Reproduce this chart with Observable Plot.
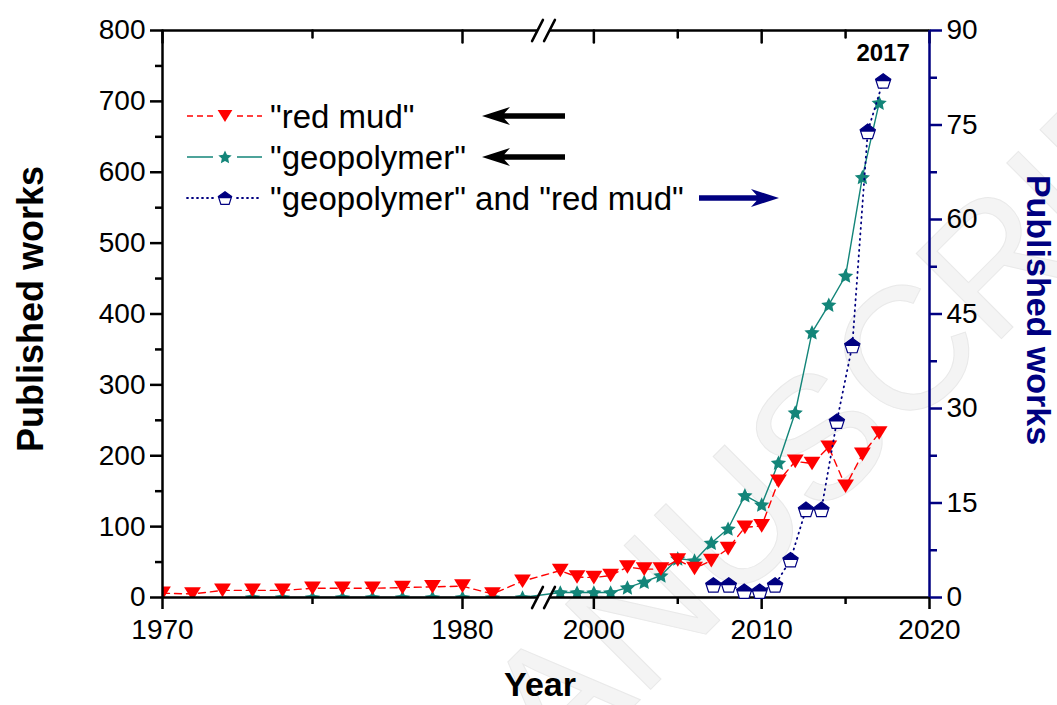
<!DOCTYPE html>
<html>
<head>
<meta charset="utf-8">
<script src="https://cdn.jsdelivr.net/npm/d3@7"></script>
<script src="https://cdn.jsdelivr.net/npm/@observablehq/plot@0.6"></script>
<style>
  html, body { margin: 0; padding: 0; background: #fff; }
  #chart { position: relative; width: 1057px; height: 705px; }
  #chart svg { position: absolute; left: 0; top: 0; }
</style>
</head>
<body>
<div id="chart"></div>
<script>
// ---- Publications per year ----
const redMudYears = [1970, 1971, 1972, 1973, 1974, 1975, 1976, 1977, 1978, 1979, 1980, 1981, 1982,
  1998, 1999, 2000, 2001, 2002, 2003, 2004, 2005, 2006, 2007, 2008, 2009, 2010, 2011, 2012, 2013, 2014, 2015, 2016, 2017];
const redMudCounts = [6, 5, 10, 10, 10, 13, 13, 13, 14, 15, 16, 5, 23,
  38, 29, 28, 31, 43, 40, 40, 53, 41, 52, 69, 99, 101, 164, 192, 189, 212, 157, 202, 232];

const geoYears = [1973, 1974, 1975, 1976, 1977, 1978, 1979, 1980, 1981, 1982,
  1998, 1999, 2000, 2001, 2002, 2003, 2004, 2005, 2006, 2007, 2008, 2009, 2010, 2011, 2012, 2013, 2014, 2015, 2016, 2017];
const geoCounts = [0, 0, 0, 0, 0, 0, 0, 0, 0, 0,
  7, 7, 7, 7, 14, 22, 31, 55, 52, 77, 97, 144, 131, 190, 261, 374, 413, 454, 593, 698];

const bothYears = [2006, 2007, 2008, 2009, 2010, 2011, 2012, 2013, 2014, 2015, 2016, 2017];
const bothCounts = [2, 2, 1, 1, 2, 6, 14, 14, 28, 40, 74, 82];

const seriesLabels = ['"red mud"', '"geopolymer"', '"geopolymer" and "red mud"'];
const seriesColors = ["#ff0000", "#138579", "#000080"];

// ---- Axes ----
const leftTicks = [0, 100, 200, 300, 400, 500, 600, 700, 800];
const leftMinor = [50, 150, 250, 350, 450, 550, 650, 750];
const rightTicks = [0, 15, 30, 45, 60, 75, 90];
const rightMinor = [7.5, 22.5, 37.5, 52.5, 67.5, 82.5];
const yearTicks = [1970, 1980, 2000, 2010, 2020];
const yearMinor = [1975, 2005, 2015];
const breakFrom = 1982.7;   // last year shown before the axis break
const breakTo = 1997;       // first year shown after the axis break
const overlayYears = [1995, 2020]; // x extent of the second (right-axis) layer

const xTitle = "Year";
const yTitle = "Published works";
const watermarkText = "MANUSCRIPT";

// ---- Layout ----
const W = 1057, H = 705;
const M = {left: 162, right: 128, top: 30, bottom: 108};
const breakPx = 543;
const font = "'Liberation Sans', Arial, Helvetica, sans-serif";

// ---- Symbols ----
const triDown = {draw(c, size) {
  const r = Math.sqrt(size / Math.PI);
  c.moveTo(-1.05 * r, -0.85 * r); c.lineTo(1.05 * r, -0.85 * r); c.lineTo(0, 0.85 * r); c.closePath();
}};
const star5 = {draw(c, size) {
  const R = Math.sqrt(size / Math.PI), r = R * 0.48;
  for (let i = 0; i < 10; i++) {
    const a = -Math.PI / 2 + i * Math.PI / 5, rr = i % 2 ? r : R;
    const x = rr * Math.cos(a), y = rr * Math.sin(a) + 0.08 * R;
    i ? c.lineTo(x, y) : c.moveTo(x, y);
  }
  c.closePath();
}};
const pentagon = {draw(c, size) {
  const R = Math.sqrt(size / Math.PI);
  for (let i = 0; i < 5; i++) {
    const a = -Math.PI / 2 + i * 2 * Math.PI / 5;
    const x = R * Math.cos(a), y = R * Math.sin(a) + 0.1 * R;
    i ? c.lineTo(x, y) : c.moveTo(x, y);
  }
  c.closePath();
}};
const pentagonTop = {draw(c, size) {
  const R = Math.sqrt(size / Math.PI), o = 0.1 * R;
  c.moveTo(0, -R + o);
  c.lineTo(0.951 * R, -0.309 * R + o);
  c.lineTo(0.851 * R, 0.05 * R);
  c.lineTo(-0.851 * R, 0.05 * R);
  c.lineTo(-0.951 * R, -0.309 * R + o);
  c.closePath();
}};
const tickLine = {draw(c, l) { c.moveTo(0, 0); c.lineTo(0, -l); }};
const symPath = (sym, r) => { const p = d3.path(); sym.draw(p, Math.PI * r * r); return p.toString(); };

// ---- Tables ----
const redMud = redMudYears.map((year, i) => ({year, count: redMudCounts[i]}));
const geopolymer = geoYears.map((year, i) => ({year, count: geoCounts[i]}));
const both = bothYears.map((year, i) => ({year, count: bothCounts[i]}));

const legendItems = [
  {label: seriesLabels[0], color: seriesColors[0], symbol: triDown, dash: "6,4", arrow: -1},
  {label: seriesLabels[1], color: seriesColors[1], symbol: star5, dash: null, arrow: -1},
  {label: seriesLabels[2], color: seriesColors[2], symbol: pentagon, dash: "1,4", arrow: +1}
];

// faint diagonal watermark behind the data
function watermark() {
  return d3.create("svg:text")
    .attr("transform", "translate(455,885) rotate(-45)")
    .attr("text-anchor", "start")
    .attr("font-family", font).attr("font-size", 175)
    .attr("fill", "#f4f4f4").attr("stroke", "#e9e9e9").attr("stroke-width", 1)
    .text(watermarkText).node();
}

// legend with series symbols and the arrows pointing to each axis
function legend() {
  const g = d3.create("svg:g").attr("font-family", font).attr("text-anchor", "start");
  const rowTop = 116, rowStep = 41, lineA = 187, lineB = 262, markX = 225, textX = 270;
  legendItems.forEach((d, i) => {
    const row = g.append("g").attr("transform", `translate(0,${rowTop + i * rowStep})`);
    for (const [a, b] of [[lineA, markX - 12], [markX + 12, lineB]]) {
      row.append("line").attr("x1", a).attr("x2", b).attr("y1", 0).attr("y2", 0)
        .attr("stroke", d.color).attr("stroke-width", d.dash === "1,4" ? 1.8 : 1.5)
        .attr("stroke-dasharray", d.dash).attr("stroke-linecap", d.dash === "1,4" ? "round" : "butt");
    }
    if (d.symbol === pentagon) {
      row.append("path").attr("transform", `translate(${markX},0)`).attr("d", symPath(pentagon, 7))
        .attr("fill", "white").attr("stroke", d.color).attr("stroke-width", 1.2);
      row.append("path").attr("transform", `translate(${markX},0)`).attr("d", symPath(pentagonTop, 7))
        .attr("fill", d.color);
    } else {
      row.append("path").attr("transform", `translate(${markX},0)`).attr("d", symPath(d.symbol, 7))
        .attr("fill", d.color);
    }
    row.append("text").attr("x", textX).attr("y", 0).attr("dy", "0.35em")
      .attr("font-size", 33).attr("fill", "black").text(d.label);
    // arrow
    const [tail, tip] = d.arrow < 0 ? [565, 482] : [699, 779];
    const s = Math.sign(tip - tail), hl = 28, hh = 9, st = 2.8;
    const pts = [[tip, 0], [tip - s * hl, -hh], [tip - s * hl * 0.8, -st], [tail, -st],
                 [tail, st], [tip - s * hl * 0.8, st], [tip - s * hl, hh]];
    row.append("path").attr("d", "M" + pts.map(p => p.join(",")).join("L") + "Z")
      .attr("fill", d.arrow < 0 ? "black" : "#000080");
  });
  return g.node();
}

const axisStyle = {strokeWidth: 2.5, fontSize: 28, label: null};

const main = Plot.plot({
  width: W, height: H,
  marginLeft: M.left, marginRight: M.right, marginTop: M.top, marginBottom: M.bottom,
  style: {fontFamily: font, background: "white", color: "black", overflow: "hidden"},
  x: {type: "linear", domain: [1970, breakFrom, breakTo, 2020], range: [M.left, breakPx, breakPx, W - M.right]},
  y: {domain: [0, 800], range: [H - M.bottom, M.top]},
  marks: [
    watermark,
    // series
    Plot.line(geopolymer, {x: "year", y: "count", stroke: seriesColors[1], strokeWidth: 1.4, clip: true}),
    Plot.dot(geopolymer, {x: "year", y: "count", symbol: star5, r: 8, fill: seriesColors[1], clip: true}),
    Plot.line(redMud, {x: "year", y: "count", stroke: seriesColors[0], strokeWidth: 1.4, strokeDasharray: "7,5", clip: true}),
    Plot.dot(redMud, {x: "year", y: "count", symbol: triDown, r: 8, fill: seriesColors[0], clip: true}),
    // frame lines, broken at the axis gap
    Plot.ruleX([1970], {stroke: "black", strokeWidth: 2.5}),
    Plot.ruleY([0, 800], {x1: 1970, x2: breakFrom, insetRight: 6, stroke: "black", strokeWidth: 2.5}),
    Plot.ruleY([0, 800], {x1: breakTo, x2: 2020, insetLeft: 6, stroke: "black", strokeWidth: 2.5}),
    Plot.vector([0, 800], {x: breakFrom, y: d => d, length: 24, rotate: 27, anchor: "middle", shape: tickLine, dx: -6, stroke: "black", strokeWidth: 2.5}),
    Plot.vector([0, 800], {x: breakTo, y: d => d, length: 24, rotate: 27, anchor: "middle", shape: tickLine, dx: 6, stroke: "black", strokeWidth: 2.5}),
    // left axis
    Plot.axisY(leftTicks, {anchor: "left", tickSize: 12, tickPadding: 5, ...axisStyle}),
    Plot.axisY(leftMinor, {anchor: "left", tickSize: 7, tickFormat: () => "", ...axisStyle}),
    // bottom axis
    Plot.axisX(yearTicks, {anchor: "bottom", tickSize: 12, tickPadding: 10, tickFormat: d => String(d), ...axisStyle}),
    Plot.axisX(yearMinor, {anchor: "bottom", tickSize: 7, tickFormat: () => "", ...axisStyle}),
    // top axis ticks pointing inward
    Plot.vector(yearTicks, {x: d => d, y: 800, length: 12, rotate: 180, anchor: "start", shape: tickLine, stroke: "black", strokeWidth: 2.5}),
    Plot.vector(yearMinor, {x: d => d, y: 800, length: 7, rotate: 180, anchor: "start", shape: tickLine, stroke: "black", strokeWidth: 2.5}),
    // titles
    Plot.text([xTitle], {frameAnchor: "bottom", lineAnchor: "middle", textAnchor: "middle", dy: 88, dx: -6, fontSize: 34, fontWeight: "bold", fill: "black"}),
    Plot.text([yTitle], {frameAnchor: "left", lineAnchor: "middle", textAnchor: "middle", rotate: -90, dx: -131, dy: -5, fontSize: 36, fontWeight: "bold", fill: "black"}),
    legend
  ]
});

const overlay = Plot.plot({
  width: W, height: H,
  marginLeft: M.left, marginRight: M.right, marginTop: M.top, marginBottom: M.bottom,
  style: {fontFamily: font, background: "transparent", color: "black"},
  x: {type: "linear", domain: overlayYears, range: [breakPx, W - M.right], axis: null},
  y: {domain: [0, 90], range: [H - M.bottom, M.top]},
  marks: [
    Plot.line(both, {x: "year", y: "count", stroke: seriesColors[2], strokeWidth: 1.8, strokeDasharray: "1,4.5", strokeLinecap: "round"}),
    Plot.dot(both, {x: "year", y: "count", symbol: pentagon, r: 8, fill: "white", stroke: seriesColors[2], strokeWidth: 1.2}),
    Plot.dot(both, {x: "year", y: "count", symbol: pentagonTop, r: 8, fill: seriesColors[2]}),
    Plot.text(both.slice(-1), {x: "year", y: "count", text: d => String(d.year), dy: -28, fontSize: 24, fontWeight: "bold", fill: "black"}),
    // right axis
    Plot.ruleX([overlayYears[1]], {stroke: seriesColors[2], strokeWidth: 2.5}),
    Plot.axisY(rightTicks, {anchor: "right", tickSize: 12, tickPadding: 5, stroke: seriesColors[2], fill: "black", ...axisStyle}),
    Plot.axisY(rightMinor, {anchor: "right", tickSize: 7, tickFormat: () => "", stroke: seriesColors[2], ...axisStyle}),
    Plot.text([yTitle], {frameAnchor: "right", lineAnchor: "middle", textAnchor: "middle", rotate: 90, dx: 108, dy: -4, fontSize: 34, fontWeight: "bold", fill: seriesColors[2]})
  ]
});

const chart = document.getElementById("chart");
chart.append(main, overlay);
</script>
</body>
</html>
